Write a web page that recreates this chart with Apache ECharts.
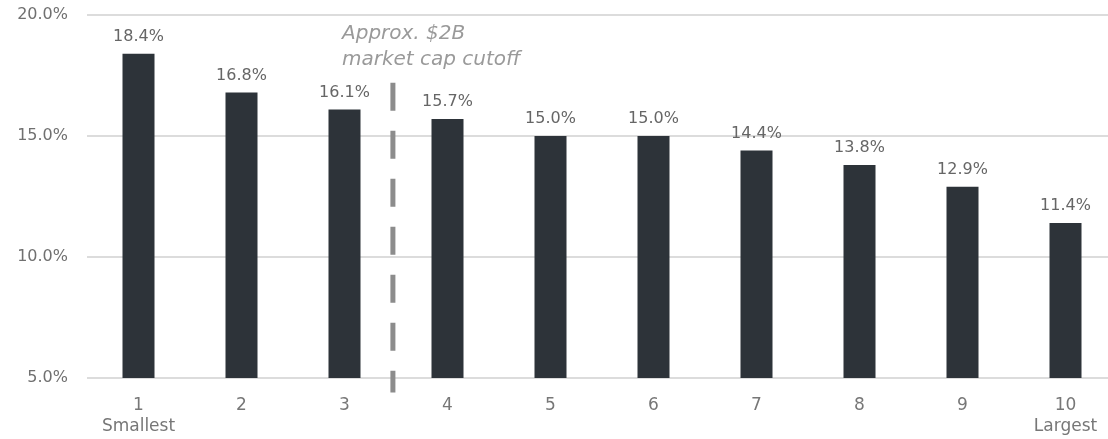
<!DOCTYPE html>
<html>
<head>
<meta charset="utf-8">
<script src="https://cdn.jsdelivr.net/npm/echarts@6/dist/echarts.min.js"></script>
<style>
  html, body { margin: 0; padding: 0; background: #ffffff; }
  #chart { width: 1108px; height: 439px; }
</style>
</head>
<body>
<div id="chart"></div>
<script>
// ---- data ----
var categories = ['1\nSmallest', '2', '3', '4', '5', '6', '7', '8', '9', '10\nLargest'];
var returns = [18.4, 16.8, 16.1, 15.7, 15.0, 15.0, 14.4, 13.8, 12.9, 11.4];
var yTicks = [5, 10, 15, 20];
var cutoffPosition = 2.47;          // between decile 3 and 4 (category index units)
var cutoffRange = [17.2, 4.4];      // top and bottom of dashed line, in % units
var cutoffText = ['Approx. $2B', 'market cap cutoff'];

var FONT = '"DejaVu Sans", sans-serif';

var chart = echarts.init(document.getElementById('chart'), null, { renderer: 'canvas' });

chart.setOption({
  backgroundColor: '#ffffff',
  animation: false,
  grid: { left: 87, width: 1030, top: 15, bottom: 61, containLabel: false, outerBoundsMode: 'none' },
  xAxis: [
    {
      type: 'category',
      data: categories,
      boundaryGap: true,
      axisLine: { show: false },
      axisTick: { show: false },
      axisLabel: {
        color: '#777777',
        fontFamily: FONT,
        fontSize: 17,
        lineHeight: 21,
        margin: 17,
        interval: 0
      }
    },
    {
      type: 'value',
      min: -0.5,
      max: 9.5,
      show: false
    }
  ],
  yAxis: {
    type: 'value',
    min: yTicks[0],
    max: yTicks[yTicks.length - 1],
    interval: 5,
    axisLine: { show: false },
    axisTick: { show: false },
    splitLine: { show: true, lineStyle: { color: '#dcdcdc', width: 2 } },
    axisLabel: {
      color: '#707070',
      fontFamily: FONT,
      fontSize: 16,
      margin: 19,
      formatter: function (v) { return v.toFixed(1) + '%'; }
    }
  },
  series: [
    {
      type: 'bar',
      data: returns,
      barWidth: 32,
      itemStyle: { color: '#2d3339' },
      label: {
        show: true,
        position: 'top',
        distance: 9,
        color: '#666666',
        fontFamily: FONT,
        fontSize: 16,
        formatter: function (p) { return p.value.toFixed(1) + '%'; }
      }
    },
    {
      type: 'line',
      xAxisIndex: 1,
      silent: true,
      clip: false,
      symbol: 'none',
      data: [
        [cutoffPosition, cutoffRange[0]],
        [cutoffPosition, cutoffRange[1]]
      ],
      lineStyle: { color: '#8c8c8c', width: 5, type: [28, 20], cap: 'butt' },
      z: 3
    }
  ],
  graphic: [
    {
      type: 'text',
      left: 342,
      top: 21,
      style: {
        text: cutoffText.join('\n'),
        fill: '#9a9a9a',
        font: 'italic 20px ' + FONT,
        lineHeight: 26
      }
    }
  ]
});
</script>
</body>
</html>
